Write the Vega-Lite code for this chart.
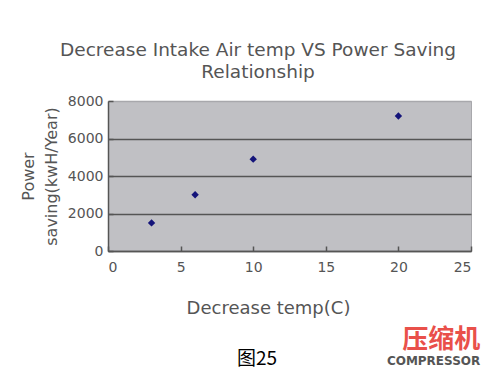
{
  "$schema": "https://vega.github.io/schema/vega-lite/v6.json",
  "background": "white",
  "padding": {"left": 19, "top": 40, "right": 5, "bottom": 0},
  "config": {
    "font": "DejaVu Sans",
    "view": {"fill": "#c0c0c4", "stroke": "#a8a8ac", "strokeWidth": 1},
    "concat": {"spacing": 0}
  },
  "title": {
    "text": "图25",
    "orient": "bottom",
    "anchor": "middle",
    "frame": "bounds",
    "font": "Noto Sans CJK SC",
    "fontSize": 19,
    "fontWeight": "normal",
    "color": "#000000",
    "offset": -17,
    "dx": 7
  },
  "vconcat": [
    {
      "title": {
        "text": "压缩机",
        "subtitle": "COMPRESSOR",
        "orient": "bottom",
        "anchor": "end",
        "frame": "bounds",
        "font": "Noto Sans CJK SC",
        "fontSize": 26,
        "fontWeight": "bold",
        "color": "#e9504a",
        "subtitleFont": "DejaVu Sans",
        "subtitleFontSize": 12,
        "subtitleFontWeight": "bold",
        "subtitleColor": "#555555",
        "subtitlePadding": 3,
        "offset": 9,
        "dx": 8
      },
      "vconcat": [
        {
          "width": 363,
          "height": 150,
          "title": {
            "text": ["Decrease Intake Air temp VS Power Saving", "Relationship"],
            "fontSize": 18.5,
            "fontWeight": "normal",
            "color": "#555555",
            "lineHeight": 22,
            "anchor": "middle",
            "frame": "bounds",
            "offset": 13,
            "dx": 12
          },
          "data": {
            "values": [
              {"temp": 3, "saving": 1500},
              {"temp": 6, "saving": 3000},
              {"temp": 10, "saving": 4900},
              {"temp": 20, "saving": 7200}
            ]
          },
          "mark": {"type": "point", "shape": "diamond", "filled": true, "color": "#14147a", "size": 55, "opacity": 1},
          "encoding": {
            "x": {
              "field": "temp",
              "type": "quantitative",
              "scale": {"domain": [0, 25], "nice": false},
              "axis": {
                "values": [0, 5, 10, 15, 20, 25],
                "title": "Decrease temp(C)",
                "grid": false,
                "domainColor": "#555555",
                "domainWidth": 1.5,
                "tickColor": "#555555",
                "tickSize": -5,
                "tickWidth": 1.5,
                "labelFontSize": 14,
                "labelColor": "#555555",
                "labelPadding": 14,
                "titleFontSize": 18,
                "titleFontWeight": "normal",
                "titleColor": "#555555",
                "titlePadding": 25,
                "titleX": 160
              }
            },
            "y": {
              "field": "saving",
              "type": "quantitative",
              "scale": {"domain": [0, 8000], "nice": false},
              "axis": {
                "values": [0, 2000, 4000, 6000, 8000],
                "format": "d",
                "title": ["Power", "saving(kwH/Year)"],
                "grid": true,
                "gridColor": {"condition": {"test": "datum.value == 8000", "value": "#a8a8ac"}, "value": "#555555"},
                "gridWidth": 1.5,
                "gridOpacity": 1,
                "domainColor": "#555555",
                "domainWidth": 1.5,
                "tickColor": "#555555",
                "tickSize": -5,
                "tickWidth": 1.5,
                "labelFontSize": 14,
                "labelColor": "#555555",
                "labelPadding": 10,
                "titleFontSize": 16,
                "titleFontWeight": "normal",
                "titleColor": "#555555",
                "titleLineHeight": 23,
                "titlePadding": 8
              }
            }
          }
        }
      ]
    }
  ]
}
